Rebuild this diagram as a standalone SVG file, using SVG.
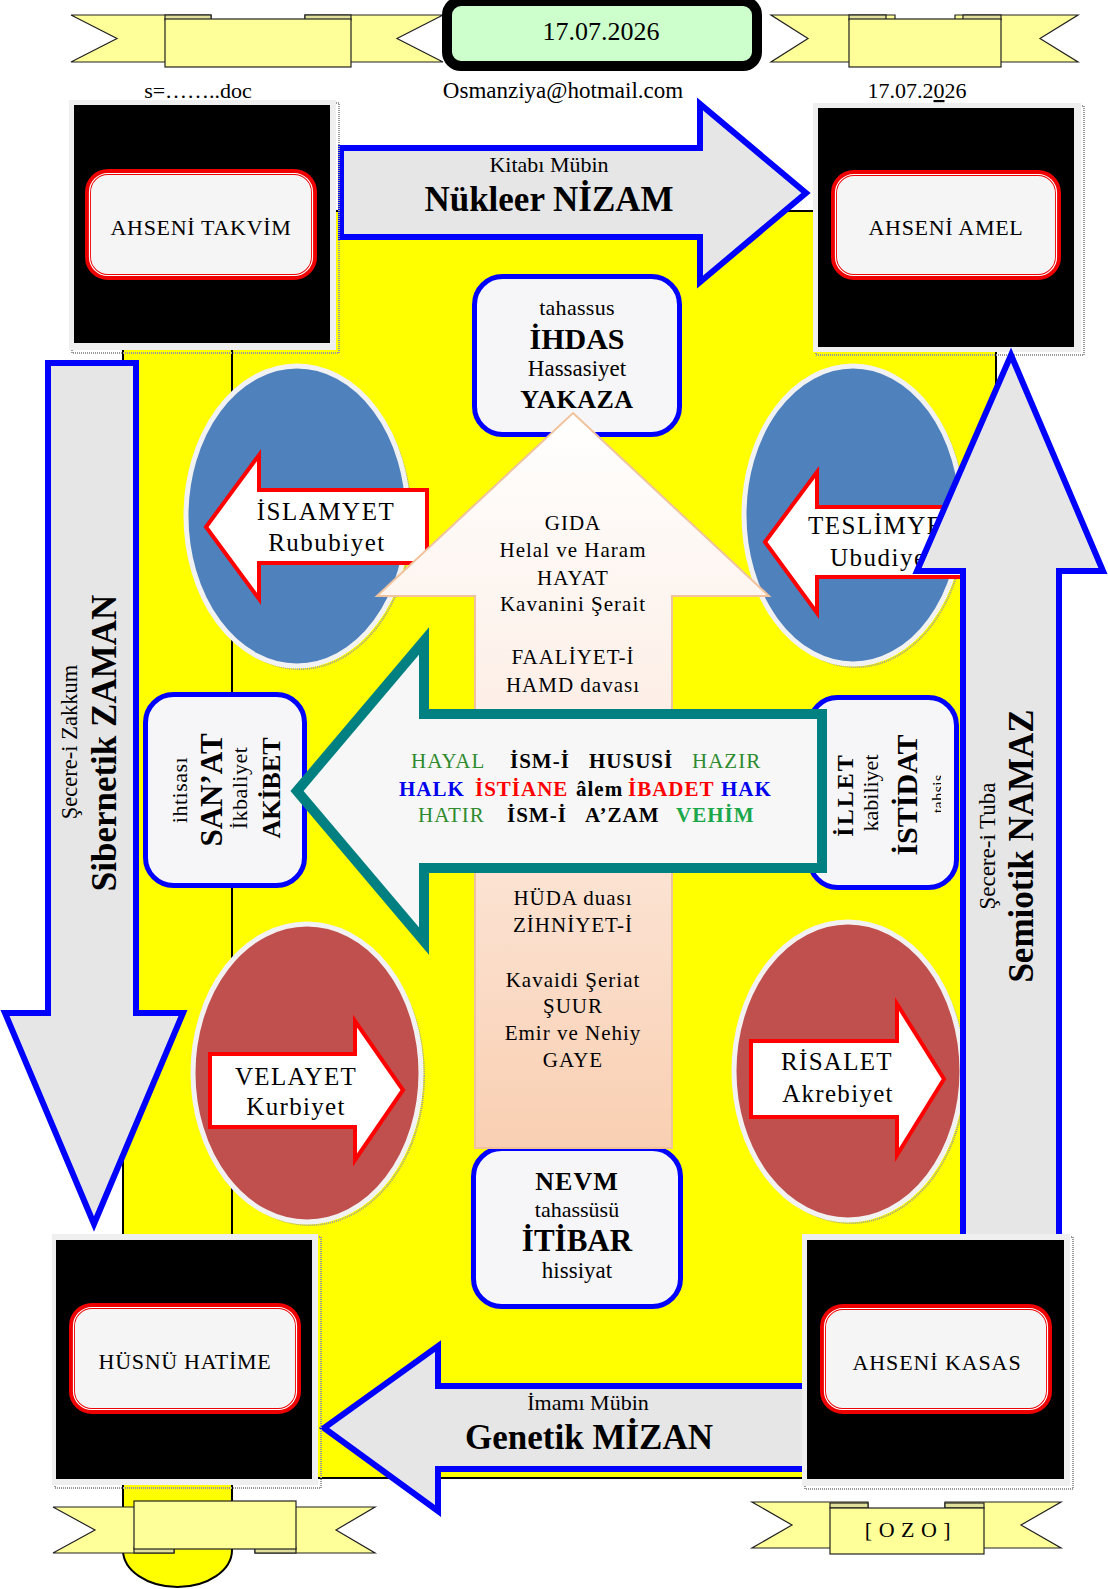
<svg xmlns="http://www.w3.org/2000/svg" width="1108" height="1589" viewBox="0 0 1108 1589">
<defs>
<linearGradient id="peach" x1="0" y1="413" x2="0" y2="1148" gradientUnits="userSpaceOnUse">
<stop offset="0" stop-color="#ffffff"/>
<stop offset="0.35" stop-color="#fdf1ea"/>
<stop offset="1" stop-color="#f9cfb2"/>
</linearGradient>
<clipPath id="clipIllet"><rect x="800" y="690" width="141" height="210"/></clipPath>
</defs>
<style>
.t{font-family:"Liberation Serif","Times New Roman",serif;fill:#000}
.b{font-weight:bold}
.c{text-anchor:middle}
.rib{fill:#ffff99;stroke:#222;stroke-width:1.2;stroke-linejoin:miter}
.tab{fill:#e0e09a;stroke:#222;stroke-width:1.2}
.big{fill:#e6e6e6;stroke:#0000ff;stroke-width:6;stroke-linejoin:miter}
.node{fill:#f6f6f8;stroke:#0000ff;stroke-width:5}
.frame{fill:#efefef}
.blk{fill:#000}
.shadow{fill:none;stroke:#9a9a9a;stroke-width:2;stroke-dasharray:1 1}
.rbox{fill:#f5f5f5;stroke:#ee0000;stroke-width:6}
.rin{fill:none;stroke:#ffffff;stroke-width:1.2}
.ra{fill:#ffffff;stroke:#ff0000;stroke-width:4;stroke-linejoin:miter}
.ell{stroke:#f2f2f2;stroke-width:5}
.g1{fill:#2e8b2e}
.g2{fill:#1aa84a}
.bl{fill:#0000ee}
.rd{fill:#ff0000}
</style>
<rect x="0" y="0" width="1108" height="1589" fill="#ffffff"/>

<g id="background">
<rect x="123" y="211" width="873" height="1267" fill="#ffff00" stroke="#000" stroke-width="2"/>
<path d="M123,340 L232,340 L232,1550 A54.5,37 0 0 1 123,1550 Z" fill="#ffff00" stroke="#000" stroke-width="2"/>
</g>

<g id="node-islamyet">
<ellipse cx="300" cy="519" rx="111" ry="150" class="shadow"/>
<ellipse cx="297" cy="516" rx="111" ry="150" fill="#4f81bd" class="ell"/>
<polygon class="ra" points="206,527 259,455 259,490 427,490 427,563 259,563 259,599"/>
<text class="t c" x="326" y="520" font-size="25" letter-spacing="1.5">İSLAMYET</text>
<text class="t c" x="327" y="551" font-size="25" letter-spacing="1.5">Rububiyet</text>
</g>

<g id="node-teslimyet">
<ellipse cx="856" cy="518" rx="109" ry="149" class="shadow"/>
<ellipse cx="853" cy="515" rx="109" ry="149" fill="#4f81bd" class="ell"/>
<polygon class="ra" points="765,542 817,472 817,507 990,507 990,577 817,577 817,613"/>
<text class="t" x="808" y="534" font-size="25" letter-spacing="1.5">TESLİMYET</text>
<text class="t" x="830" y="566" font-size="25" letter-spacing="1.5">Ubudiyet</text>
</g>

<g id="node-velayet">
<ellipse cx="310" cy="1076" rx="114" ry="149" class="shadow"/>
<ellipse cx="307" cy="1073" rx="114" ry="149" fill="#c0504d" class="ell"/>
<polygon class="ra" points="210,1054 355,1054 355,1021 403,1090 355,1160 355,1127 210,1127"/>
<text class="t c" x="296" y="1085" font-size="25" letter-spacing="1.3">VELAYET</text>
<text class="t c" x="296" y="1115" font-size="25" letter-spacing="1.3">Kurbiyet</text>
</g>

<g id="node-risalet">
<ellipse cx="851" cy="1074" rx="114" ry="149" class="shadow"/>
<ellipse cx="848" cy="1071" rx="114" ry="149" fill="#c0504d" class="ell"/>
<polygon class="ra" points="751,1041 897,1041 897,1004 944,1079 897,1155 897,1117 751,1117"/>
<text class="t c" x="837" y="1070" font-size="25" letter-spacing="1.3">RİSALET</text>
<text class="t c" x="838" y="1102" font-size="25" letter-spacing="1.3">Akrebiyet</text>
</g>

<g id="node-ihdas">
<rect class="node" x="474.5" y="276.5" width="205" height="158" rx="28"/>
<text class="t c" x="577" y="315" font-size="22" letter-spacing="0.3">tahassus</text>
<text class="t c b" x="577" y="349" font-size="30">İHDAS</text>
<text class="t c" x="577" y="376" font-size="23">Hassasiyet</text>
<text class="t c b" x="577" y="408" font-size="26" letter-spacing="0.5">YAKAZA</text>
</g>

<g id="node-itibar">
<rect class="node" x="473.5" y="1148.5" width="207" height="158" rx="28"/>
<text class="t c b" x="577" y="1190" font-size="26" letter-spacing="1">NEVM</text>
<text class="t c" x="577" y="1217" font-size="22">tahassüsü</text>
<text class="t c b" x="577" y="1251" font-size="31">İTİBAR</text>
<text class="t c" x="577" y="1278" font-size="23">hissiyat</text>
</g>

<g id="node-gida">
<polygon points="573,413 769,596 672,596 672,1148 475,1148 475,596 377,596" fill="url(#peach)" stroke="#f1c39c" stroke-width="2"/>
<g class="t c" font-size="21" letter-spacing="1">
<text x="573" y="530">GIDA</text>
<text x="573" y="557">Helal ve Haram</text>
<text x="573" y="585">HAYAT</text>
<text x="573" y="611">Kavanini Şerait</text>
<text x="573" y="664">FAALİYET-İ</text>
<text x="573" y="692">HAMD davası</text>
<text x="573" y="905">HÜDA duası</text>
<text x="573" y="932">ZİHNİYET-İ</text>
<text x="573" y="987">Kavaidi Şeriat</text>
<text x="573" y="1013">ŞUUR</text>
<text x="573" y="1040">Emir ve Nehiy</text>
<text x="573" y="1067">GAYE</text>
</g>
</g>

<g id="node-sanat">
<rect class="node" x="145.5" y="694.5" width="159" height="191" rx="28"/>
<text class="t c" font-size="22" letter-spacing="0.5" transform="translate(187,790) rotate(-90)">ihtisası</text>
<text class="t c b" font-size="31" transform="translate(222,790) rotate(-90)">SAN’AT</text>
<text class="t c" font-size="22" letter-spacing="0.5" transform="translate(247,788) rotate(-90)">İkbaliyet</text>
<text class="t c b" font-size="26" transform="translate(280,788) rotate(-90)">AKİBET</text>
</g>

<g id="node-illet">
<rect class="node" x="809.5" y="697.5" width="147" height="190" rx="28"/>
<text class="t c b" font-size="24" letter-spacing="2" transform="translate(853,795) rotate(-90)">İLLET</text>
<text class="t c" font-size="22" transform="translate(878,793) rotate(-90)">kabiliyet</text>
<text class="t c b" font-size="30" transform="translate(917,795) rotate(-90)">İSTİDAT</text>
<g clip-path="url(#clipIllet)">
<text class="t c" font-size="17" transform="translate(944,794) rotate(-90)">tahsis</text>
</g>
</g>

<g id="node-halk">
<polygon points="297,791 424,641 424,714 822,714 822,868 424,868 424,941" fill="#f7f7f7" stroke="#008080" stroke-width="10" stroke-linejoin="miter"/>
<g class="t" font-size="21" letter-spacing="1">
<text y="768"><tspan class="g1" x="411">HAYAL</tspan><tspan class="b" x="510">İSM-İ</tspan><tspan class="b" x="589">HUSUSİ</tspan><tspan class="g1" x="692">HAZIR</tspan></text>
<text y="796" class="b"><tspan class="bl" x="399">HALK</tspan><tspan class="rd" x="475">İSTİANE</tspan><tspan x="576">âlem</tspan><tspan class="rd" x="628">İBADET</tspan><tspan class="bl" x="721">HAK</tspan></text>
<text y="822"><tspan class="g1" x="418">HATIR</tspan><tspan class="b" x="507">İSM-İ</tspan><tspan class="b" x="585">A’ZAM</tspan><tspan class="b g2" x="676">VEHİM</tspan></text>
</g>
</g>

<g id="node-ahseni-amel">
<rect x="816" y="106" width="268" height="249" class="shadow"/>
<rect class="frame" x="813" y="103" width="268" height="249"/>
<rect class="blk" x="818" y="108" width="256" height="239"/>
<rect class="rbox" x="834" y="173" width="224" height="104" rx="20"/>
<rect class="rin" x="835.5" y="174.5" width="221" height="101" rx="18.5"/>
<text class="t c" x="946" y="235" font-size="22" letter-spacing="0.7">AHSENİ AMEL</text>
</g>

<g id="connectors">
<g id="arrow-nizam">
<polygon class="big" points="341,148 700,148 700,104 806,193 700,282 700,237 341,237"/>
<text class="t c" x="549" y="172" font-size="22">Kitabı Mübin</text>
<text class="t c b" x="549" y="211" font-size="35">Nükleer NİZAM</text>
</g>
<g id="arrow-mizan">
<polygon class="big" points="438,1386 812,1386 812,1469 438,1469 438,1511 324,1428 438,1346"/>
<text class="t c" x="588" y="1410" font-size="22">İmamı Mübin</text>
<text class="t c b" x="589" y="1449" font-size="35">Genetik MİZAN</text>
</g>
<g id="arrow-zaman">
<polygon class="big" points="48,363 136,363 136,1013 183,1013 94,1224 5,1013 48,1013"/>
<text class="t c" font-size="22.5" transform="translate(77,742) rotate(-90)">Şecere-i Zakkum</text>
<text class="t c b" font-size="35" transform="translate(116,743) rotate(-90)">Sibernetik ZAMAN</text>
</g>
<g id="arrow-namaz">
<polygon class="big" points="1011,355 1103,571 1059,571 1059,1240 963,1240 963,571 917,571"/>
<text class="t c" font-size="23" transform="translate(995,846) rotate(-90)">Şecere-i Tuba</text>
<text class="t c b" font-size="35" transform="translate(1033,846) rotate(-90)">Semiotik NAMAZ</text>
</g>
</g>

<g id="node-ahseni-takvim">
<rect x="72" y="103" width="267" height="250" class="shadow"/>
<rect class="frame" x="69" y="100" width="267" height="250"/>
<rect class="blk" x="74" y="105" width="256" height="238"/>
<rect class="rbox" x="88" y="172" width="226" height="105" rx="20"/>
<rect class="rin" x="89.5" y="173.5" width="223" height="102" rx="18.5"/>
<text class="t c" x="201" y="235" font-size="22" letter-spacing="0.7">AHSENİ TAKVİM</text>
</g>

<g id="node-husnu-hatime">
<rect x="55" y="1237" width="266" height="251" class="shadow"/>
<rect class="frame" x="52" y="1234" width="266" height="251"/>
<rect class="blk" x="56" y="1240" width="256" height="239"/>
<rect class="rbox" x="72" y="1306" width="226" height="105" rx="20"/>
<rect class="rin" x="73.5" y="1307.5" width="223" height="102" rx="18.5"/>
<text class="t c" x="185" y="1369" font-size="22" letter-spacing="0.7">HÜSNÜ HATİME</text>
</g>

<g id="node-ahseni-kasas">
<rect x="805" y="1237" width="268" height="252" class="shadow"/>
<rect class="frame" x="802" y="1234" width="268" height="252"/>
<rect class="blk" x="807" y="1240" width="257" height="239"/>
<rect class="rbox" x="823" y="1307" width="226" height="104" rx="20"/>
<rect class="rin" x="824.5" y="1308.5" width="223" height="101" rx="18.5"/>
<text class="t c" x="937" y="1370" font-size="22" letter-spacing="0.9">AHSENİ KASAS</text>
</g>

<g id="ribbon-top-left">
<polygon class="rib" points="71,15 211,15 211,62 71,62 117,38.5"/>
<polygon class="rib" points="305,15 443,15 397,38.5 443,62 305,62"/>
<rect class="tab" x="165" y="15" width="46" height="5"/>
<rect class="tab" x="305" y="15" width="46" height="5"/>
<rect class="rib" x="165" y="19" width="186" height="48"/>
</g>

<g id="ribbon-top-right">
<polygon class="rib" points="771,15 895,15 895,62 771,62 808,38.5"/>
<polygon class="rib" points="955,15 1078,15 1040,38.5 1078,62 955,62"/>
<rect class="tab" x="849" y="15" width="37" height="5"/>
<rect class="tab" x="963" y="15" width="38" height="5"/>
<rect class="rib" x="849" y="19" width="152" height="48"/>
</g>

<g id="node-date">
<rect x="447" y="1" width="310" height="65" rx="14" fill="#ccffcc" stroke="#000" stroke-width="10"/>
<text class="t c" x="601" y="40" font-size="26">17.07.2026</text>
</g>

<g id="header-texts">
<text class="t c" x="198" y="98" font-size="22">s=……..doc</text>
<text class="t c" x="563" y="98" font-size="23">Osmanziya@hotmail.com</text>
<text class="t c" x="917" y="98" font-size="22">17.07.2<tspan text-decoration="underline">0</tspan>26</text>
</g>

<g id="ribbon-bottom-left">
<polygon class="rib" points="53,1507 174,1507 174,1553 53,1553 95,1530"/>
<polygon class="rib" points="255,1507 375,1507 336,1530 375,1553 255,1553"/>
<rect class="tab" x="134" y="1548" width="40" height="5"/>
<rect class="tab" x="255" y="1548" width="41" height="5"/>
<rect class="rib" x="134" y="1501" width="162" height="48"/>
</g>

<g id="ribbon-bottom-right">
<polygon class="rib" points="752,1502 868,1502 868,1548 752,1548 792,1525"/>
<polygon class="rib" points="945,1502 1061,1502 1021,1525 1061,1548 945,1548"/>
<rect class="tab" x="830" y="1503" width="38" height="5"/>
<rect class="tab" x="945" y="1503" width="39" height="5"/>
<rect class="rib" x="830" y="1508" width="154" height="46"/>
<text class="t c" x="911" y="1537" font-size="22" letter-spacing="6.5">[OZO]</text>
</g>
</svg>
